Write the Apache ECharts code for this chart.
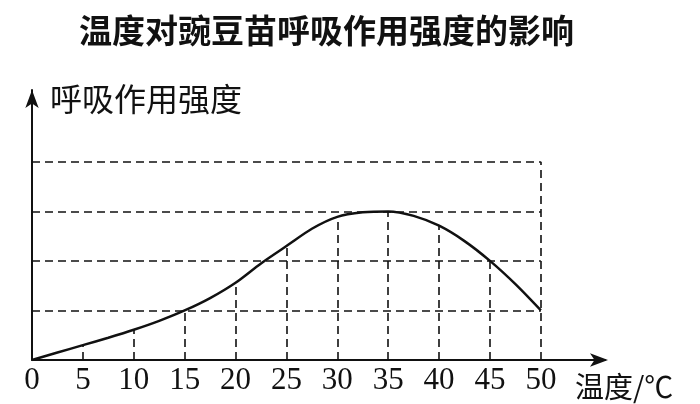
<!DOCTYPE html>
<html><head><meta charset="utf-8">
<script src="https://cdn.jsdelivr.net/npm/echarts@6/dist/echarts.min.js"></script>
<style>html,body{margin:0;padding:0;background:#fff}#c{width:700px;height:404px}</style>
</head><body><div id="c"></div>
<script>
const titleText = '温度对豌豆苗呼吸作用强度的影响';
const yName = '呼吸作用强度';
const xName = '温度/℃';
const xTicks = [0, 5, 10, 15, 20, 25, 30, 35, 40, 45, 50];
const temps = [0, 2.5, 5, 7.5, 10, 12.5, 15, 17.5, 20, 22.5, 25, 27.5, 30, 32.5, 35, 37.5, 40, 42.5, 45, 47.5, 50];
const intensity = [0, 0.15, 0.30, 0.45, 0.61, 0.79, 1.0, 1.25, 1.56, 1.95, 2.3, 2.65, 2.89, 2.98, 3.0, 2.91, 2.71, 2.4, 2.0, 1.53, 1.0];
const gridLevels = [1, 2, 3, 4];
const vLineX = [5, 10, 15, 20, 25, 30, 35, 40, 45];
const vLineTop = [0.30, 0.61, 1.0, 1.56, 2.3, 2.89, 3.0, 2.71, 2.0];
const frameRight = 50, frameTop = 4;

const dash = {color: '#111', width: 1.6, type: [8, 5]};
const markData = [];
gridLevels.forEach(l => markData.push([{coord: [0, l]}, {coord: [frameRight, l]}]));
vLineX.forEach((x, i) => markData.push([{coord: [x, 0]}, {coord: [x, vLineTop[i]]}]));
markData.push([{coord: [frameRight, 0]}, {coord: [frameRight, frameTop]}]);

const chart = echarts.init(document.getElementById('c'));
chart.setOption({
  animation: false,
  backgroundColor: '#fff',
  title: {text: titleText, left: 74, top: 9,
    textStyle: {fontFamily: 'Noto Sans CJK SC', fontWeight: 'bold', fontSize: 33, color: '#111'}},
  grid: {left: 32, top: 90, width: 573, height: 270},
  xAxis: {type: 'value', min: 0, max: 56.3, interval: 5,
    axisLine: {lineStyle: {color: '#111', width: 2}, symbol: ['none', 'arrow'], symbolSize: [10, 18], symbolOffset: [0, 3]},
    axisTick: {show: false}, splitLine: {show: false},
    axisLabel: {customValues: xTicks, color: '#111', fontFamily: 'Liberation Serif', fontSize: 31, margin: 5},
    name: xName, nameLocation: 'end', nameGap: 0,
    nameTextStyle: {fontFamily: 'Noto Sans CJK SC', fontSize: 29, color: '#111', align: 'left', verticalAlign: 'top', padding: [12, 0, 0, -30]}},
  yAxis: {type: 'value', min: 0, max: 5.45,
    axisLine: {show: true, lineStyle: {color: '#111', width: 2}, symbol: ['none', 'arrow'], symbolSize: [10, 18]},
    axisTick: {show: false}, splitLine: {show: false}, axisLabel: {show: false},
    name: yName, nameLocation: 'end', nameGap: -9,
    nameTextStyle: {fontFamily: 'Noto Sans CJK SC', fontSize: 32, color: '#111', align: 'left', verticalAlign: 'middle', padding: [0, 0, 0, 18]}},
  series: [{
    type: 'line', data: temps.map((t, i) => [t, intensity[i]]), smooth: 0.3, showSymbol: false,
    lineStyle: {color: '#111', width: 2.5}, z: 3,
    markLine: {silent: true, symbol: 'none', label: {show: false}, lineStyle: dash, data: markData}
  }]
});
</script></body></html>
